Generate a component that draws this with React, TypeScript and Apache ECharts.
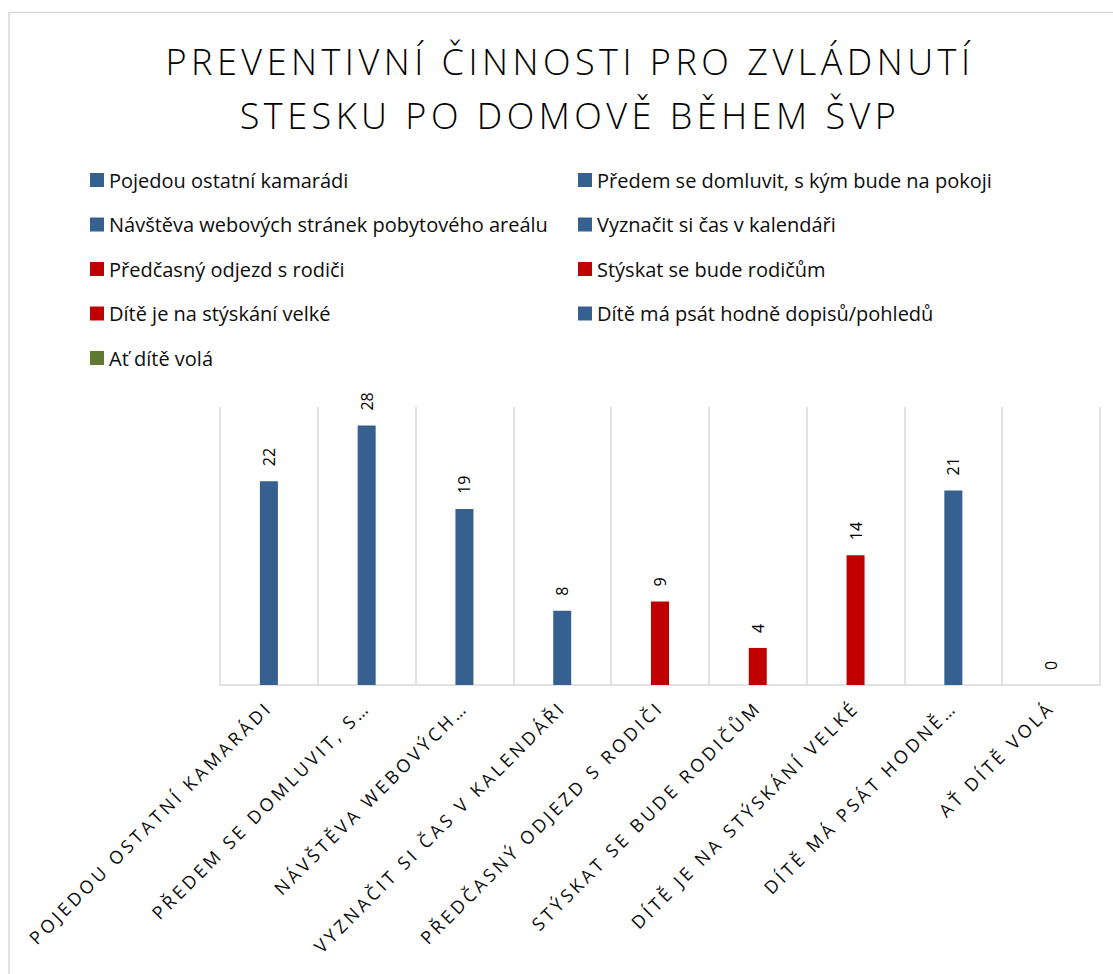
import React, { useEffect, useRef } from "react";
import * as echarts from "echarts";

const categories = [
  "Pojedou ostatní kamarádi",
  "Předem se domluvit, s kým bude na pokoji",
  "Návštěva webových stránek pobytového areálu",
  "Vyznačit si čas v kalendáři",
  "Předčasný odjezd s rodiči",
  "Stýskat se bude rodičům",
  "Dítě je na stýskání velké",
  "Dítě má psát hodně dopisů/pohledů",
  "Ať dítě volá",
];

const axisLabels = [
  "POJEDOU OSTATNÍ KAMARÁDI",
  "PŘEDEM SE DOMLUVIT, S…",
  "NÁVŠTĚVA WEBOVÝCH…",
  "VYZNAČIT SI ČAS V KALENDÁŘI",
  "PŘEDČASNÝ ODJEZD S RODIČI",
  "STÝSKAT SE BUDE RODIČŮM",
  "DÍTĚ JE NA STÝSKÁNÍ VELKÉ",
  "DÍTĚ MÁ PSÁT HODNĚ…",
  "AŤ DÍTĚ VOLÁ",
];

const values = [22, 28, 19, 8, 9, 4, 14, 21, 0];

const BLUE = "#36608F";
const RED = "#C00000";
const GREEN = "#5E7B31";
const barColors = [BLUE, BLUE, BLUE, BLUE, RED, RED, RED, BLUE, GREEN];

const titleLines = ["PREVENTIVNÍ ČINNOSTI PRO ZVLÁDNUTÍ", "STESKU PO DOMOVĚ BĚHEM ŠVP"];

const css = `
#chart text[style*="36px"] { letter-spacing: 4.5px; }
#chart text[style*="18px"] { letter-spacing: 3.4px; }
`;

export default function App() {
  const ref = useRef<HTMLDivElement>(null);
  useEffect(() => {
    if (!ref.current) return;
    const chart = echarts.init(ref.current, null, { renderer: "svg" });
    const font = "Open Sans";
    const series = categories.map((name, i) => ({
      type: "bar",
      name,
      stack: "one",
      barWidth: 18,
      data: values.map((v, j) => (j === i ? v : "-")),
      itemStyle: { color: barColors[i] },
      label: {
        show: true,
        position: "top",
        rotate: 90,
        align: "left",
        verticalAlign: "middle",
        distance: 15,
        fontSize: 16,
        fontFamily: font,
        color: "#000",
      },
    }));
    const legendCommon = {
      orient: "vertical",
      icon: "rect",
      itemWidth: 14,
      itemHeight: 14,
      itemGap: 22.5,
      top: 164,
      selectedMode: false,
      textStyle: { fontSize: 20, fontFamily: font, color: "#0d0d0d", lineHeight: 22 },
    };
    chart.setOption({
      animation: false,
      backgroundColor: "#fff",
      graphic: [
        {
          type: "rect",
          shape: { x: 9, y: 12.5, width: 1300, height: 1300 },
          style: { fill: "none", stroke: "#D9D9D9", lineWidth: 1.5 },
          silent: true,
        },
        {
          type: "text",
          x: 570,
          y: 34,
          style: {
            text: titleLines.join("\n"),
            textAlign: "center",
            fontSize: 36,
            fontWeight: 300,
            lineHeight: 54,
            fontFamily: font,
            fill: "#000",
          },
        },
      ],
      legend: [
        { ...legendCommon, left: 85, data: [0, 2, 4, 6, 8].map((i) => categories[i]) },
        { ...legendCommon, left: 573, data: [1, 3, 5, 7].map((i) => categories[i]) },
      ],
      grid: { left: 220, right: 13, top: 407, bottom: 289, containLabel: false },
      xAxis: {
        type: "category",
        data: categories,
        axisLine: { lineStyle: { color: "#D9D9D9", width: 1.5 } },
        axisTick: { show: false },
        splitLine: { show: true, lineStyle: { color: "#D9D9D9", width: 1.5 } },
        axisLabel: {
          interval: 0,
          rotate: 45,
          margin: 19,
          fontSize: 18,
          fontFamily: font,
          color: "#0d0d0d",
          formatter: (_v: string, idx: number) => axisLabels[idx],
        },
      },
      yAxis: {
        type: "value",
        min: 0,
        max: 30,
        show: false,
        splitLine: { show: false },
      },
      series,
    });
    return () => chart.dispose();
  }, []);
  return (
    <>
      <style>{css}</style>
      <div
        id="chart"
        ref={ref}
        style={{ position: "absolute", left: 0, top: 0, width: 1113, height: 974 }}
      />
    </>
  );
}
